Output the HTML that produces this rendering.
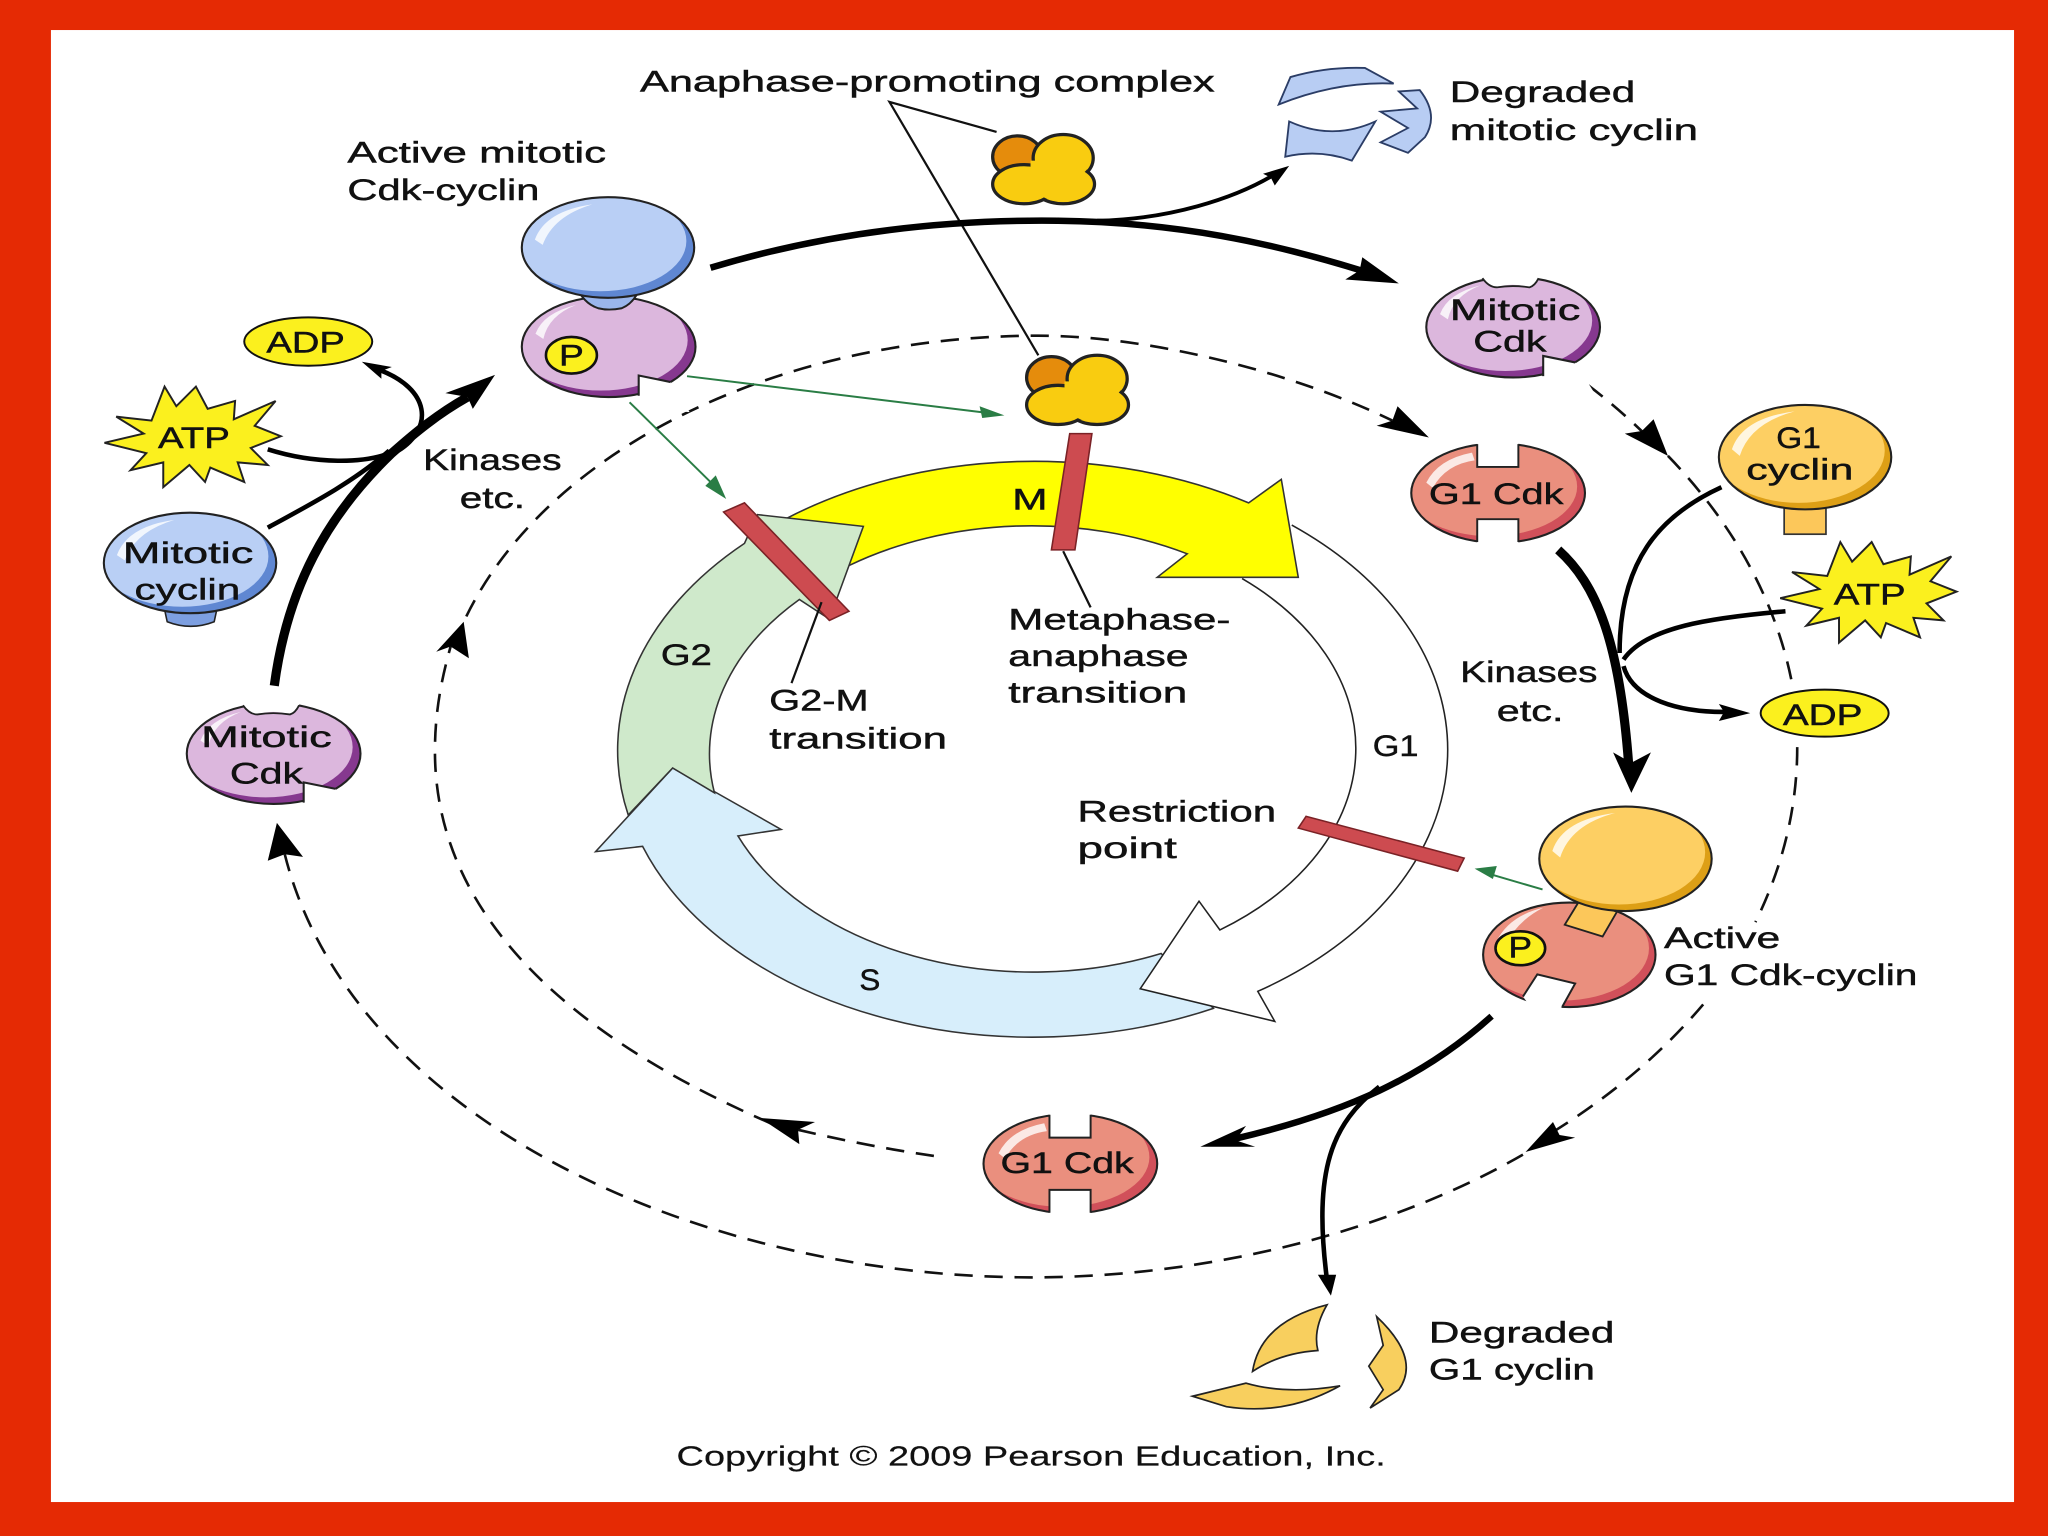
<!DOCTYPE html>
<html>
<head>
<meta charset="utf-8">
<style>
html,body{margin:0;padding:0;background:#e52a04;}
svg{display:block;}
text{font-family:"Liberation Sans",sans-serif;font-size:23px;fill:#111;stroke:#111;stroke-width:.35px;}
.thin{fill:none;stroke:#111;stroke-width:1.7;}
.dash{fill:none;stroke:#111;stroke-width:2;stroke-dasharray:14 9;}
.bk{fill:none;stroke:#000;stroke-linecap:butt;}
.gr{fill:none;stroke:#2a7d45;stroke-width:1.5;}
.bar{fill:#cd4b50;stroke:#7a2226;stroke-width:1.2;}
.hl{fill:#fff;opacity:.8;}
</style>
</head>
<body>
<svg xmlns="http://www.w3.org/2000/svg" width="2048" height="1536" viewBox="0 0 1568 1176">
<defs>
<clipPath id="c1"><ellipse rx="66.5" ry="38.5"/></clipPath>
<clipPath id="c2"><ellipse rx="66" ry="40"/></clipPath>
<g id="mcdk">
<ellipse rx="66.5" ry="38.5" fill="#86388f"/>
<ellipse cx="-6" cy="-5" rx="66.5" ry="38.5" fill="#dcb7dd" clip-path="url(#c1)"/>
<ellipse rx="66.5" ry="38.5" fill="none" stroke="#222" stroke-width="1.6"/>
<path d="M-56,-10 Q-50,-26 -25,-32 Q-46,-24 -50,-6 Z" class="hl"/>
<path d="M23,47 L23,22 L47.5,27 L62,50 Z" fill="#fff"/>
<path d="M23,37.5 L23,22 L47.5,27" fill="none" stroke="#222" stroke-width="1.6"/>
</g>
<g id="g1cdk">
<ellipse rx="66.5" ry="38" fill="#d1505a"/>
<ellipse cx="-6" cy="-5" rx="66.5" ry="38" fill="#ea8f7e" clip-path="url(#c1)"/>
<ellipse rx="66.5" ry="38" fill="none" stroke="#222" stroke-width="1.6"/>
<path d="M-55,-8 Q-46,-26 -20,-31 L-18,-25 Q-40,-22 -50,-4 Z" class="hl"/>
<path d="M-16,-42 V-20 H15.5 V-42 Z M-16,42 V20 H15.5 V42 Z" fill="#fff"/>
<path d="M-16,-37.5 V-20 H15.5 V-37.5 M-16,37.5 V20 H15.5 V37.5" fill="none" stroke="#222" stroke-width="1.5"/>
</g>
<g id="bcyc">
<ellipse rx="66" ry="38.5" fill="#5f87d2"/>
<ellipse cx="-6" cy="-5" rx="66" ry="38.5" fill="#b9cff5" clip-path="url(#c1)"/>
<ellipse rx="66" ry="38.5" fill="none" stroke="#222" stroke-width="1.6"/>
<path d="M-56,-6 Q-48,-28 -12,-33 Q-42,-24 -50,-2 Z" class="hl"/>
</g>
<g id="ycyc">
<ellipse rx="66" ry="40" fill="#dd9f16"/>
<ellipse cx="-5" cy="-5" rx="66" ry="40" fill="#fdcf63" clip-path="url(#c2)"/>
<ellipse rx="66" ry="40" fill="none" stroke="#222" stroke-width="1.6"/>
<path d="M-56,-6 Q-48,-30 -8,-35 Q-42,-26 -50,-1 Z" class="hl"/>
</g>
<g id="apc">
<ellipse cx="805" cy="289" rx="19" ry="16" fill="#e58c0c" stroke="#222" stroke-width="2.5"/>
<g fill="#f9cc10" stroke="#222" stroke-width="2.5">
<ellipse cx="840" cy="290" rx="23" ry="18"/>
<ellipse cx="840" cy="310" rx="24" ry="15"/>
<ellipse cx="810" cy="310" rx="24" ry="15"/>
</g>
<g fill="#f9cc10">
<ellipse cx="840" cy="290" rx="21.5" ry="16.5"/>
<ellipse cx="840" cy="310" rx="22.5" ry="13.5"/>
<ellipse cx="810" cy="310" rx="22.5" ry="13.5"/>
<rect x="815" y="292" width="20" height="20"/>
</g>
</g>
<polygon id="star" points="80,339 110,332 89,319 116,322 126,296 135,311 150,296 159,313 180,307 179,321 211,307 195,326 215,334 192,343 205,356 182,354 187,369 161,358 157,369 145,356 125,373 125,354 100,360 112,347" fill="#fbf01e" stroke="#222" stroke-width="1.5"/>
</defs>

<rect width="1568" height="1176" fill="#e52a04"/>
<rect x="39" y="23" width="1503" height="1127" fill="#fff"/>

<!-- Cell-cycle ring -->
<path d="M515,588 L598,635 L565,640 A245 170 0 0 0 889,730 L929,772 A317 220 0 0 1 492,648 L456,652 Z" fill="#d7eefb" stroke="#333" stroke-width="1.2"/>
<path d="M989,402 A317 220 0 0 1 963,759 L976,782 L873,757 L918,690 L934,712 A245 170 0 0 0 951,443" fill="#fff" stroke="#222" stroke-width="1.2"/>
<path d="M602,397 A317 220 0 0 1 956,385 L981,367 L994,442 L886,442 L909,424 A245 170 0 0 0 650,433 Z" fill="#ffff00" stroke="#333" stroke-width="1.2"/>
<path d="M580,394 L661,403 L635,474 L612,459 A245 170 0 0 0 547,607 L515,588 L481,624 A317 220 0 0 1 570,416 Z" fill="#cfe9cb" stroke="#333" stroke-width="1.2"/>

<polygon class="bar" points="554,392 570,385 650,468 635,475"/>
<polygon class="bar" points="819,332 836,332 823,421 805,421"/>
<polygon class="bar" points="1000,625 1121,657 1116,667 994,634"/>

<!-- Dashed arcs -->
<path class="dash" d="M1216,295 A581 408 0 0 1 1265,338"/>
<path class="dash" d="M1277,349 A581 408 0 0 1 1372,523"/>
<path class="dash" d="M1376,572 A581 408 0 0 1 1344,706"/>
<path class="dash" d="M1304,769 A581 408 0 0 1 1190,866"/>
<path class="dash" d="M1166,884 C1060,945 920,978 790,978 C540,978 270,860 218,654"/>
<path class="dash" d="M715,885 C680,880 645,873 611,865"/>
<path class="dash" d="M590,860 C470,808 333,720 333,575 C333,545 338,520 345,495"/>
<path class="dash" d="M357,472 A462 313 0 0 1 795,257 C880,257 990,285 1066,322"/>
<g fill="#000">
<polygon points="1094,335 1070,311 1066,322 1054,326"/>
<polygon points="1277,349 1266,321 1257,330 1244,332"/>
<polygon points="355,476 334,499 345,495 359,504"/>
<polygon points="582,856 624,859 611,865 612,876"/>
<polygon points="1168,882 1189,859 1194,869 1206,871"/>
<polygon points="212,630 205,659 218,654 232,656"/>
</g>

<!-- Thin pointers -->
<path class="thin" d="M763,101 L681,78 L795,272"/>
<path class="thin" d="M814,422 L835,465"/>
<path class="thin" d="M629,461 L606,523"/>

<!-- Green arrows -->
<path class="gr" d="M526,288 L755,316"/>
<polygon points="769,318 750,311 752,320" fill="#2a7d45"/>
<path class="gr" d="M482,308 L548,373"/>
<polygon points="556,382 548,364 540,372" fill="#2a7d45"/>
<path class="gr" d="M1181,681 L1140,669"/>
<polygon points="1129,665 1146,663 1143,673" fill="#2a7d45"/>

<!-- Thick arrows -->
<path class="bk" stroke-width="5" d="M544,205 C640,176 730,168 810,169 C900,170 975,186 1045,208"/>
<polygon points="1071,217 1043,197 1041,207 1030,214"/>
<path class="bk" stroke-width="3" d="M840,169 C895,168 945,152 975,134"/>
<polygon points="987,127 967,133 973,136 976,142"/>

<path class="bk" stroke-width="7" d="M210,525 C220,450 250,395 300,347 C318,331 335,317 358,304"/>
<polygon points="379,287 341,301 358,304 362,313"/>
<path class="bk" stroke-width="3.5" d="M205,344 C240,355 280,356 303,345"/>
<path class="bk" stroke-width="3.5" d="M205,404 C240,385 272,368 298,345"/>
<path class="bk" stroke-width="3.5" d="M305,345 C332,328 330,298 290,283"/>
<polygon points="277,277 300,281 292,284 292,290"/>

<path class="bk" stroke-width="7" d="M1193,421 C1222,447 1240,490 1247,586"/>
<polygon points="1249,607 1235,576 1249,584 1264,576"/>
<path class="bk" stroke-width="3.5" d="M1318,373 C1270,395 1240,430 1240,500"/>
<path class="bk" stroke-width="3.5" d="M1367,468 C1310,473 1260,480 1243,505"/>
<path class="bk" stroke-width="3.5" d="M1243,510 C1250,535 1285,546 1325,545"/>
<polygon points="1340,546 1316,539 1320,545 1316,552"/>

<path class="bk" stroke-width="5" d="M1142,778 C1090,825 1030,852 945,872"/>
<polygon points="919,878 954,862 946,873 961,878"/>
<path class="bk" stroke-width="3.5" d="M1056,832 C1020,860 1005,895 1016,980"/>
<polygon points="1019,992 1009,976 1023,976"/>

<!-- APC -->
<use href="#apc"/>
<use href="#apc" transform="translate(-26,-169)"/>

<!-- Active mitotic Cdk-cyclin -->
<use href="#mcdk" transform="translate(466,265.5)"/>
<path d="M441,218 Q446,232 458,236 Q466,238 476,236 Q486,232 491,218 Z" fill="#9ab6ec" stroke="#222" stroke-width="1.5"/>
<use href="#bcyc" transform="translate(465.5,189.5)"/>
<ellipse cx="437.5" cy="272" rx="19.5" ry="14" fill="#fbf01e" stroke="#111" stroke-width="2"/>

<!-- Mitotic cyclin -->
<path d="M125,462 L128,476 Q146,483 164,476 L167,462 Z" fill="#7d9fe0" stroke="#222" stroke-width="1.2"/>
<use href="#bcyc" transform="translate(145.5,431)"/>

<!-- Mitotic Cdk (left & right) -->
<use href="#mcdk" transform="translate(209.5,577)"/>
<use href="#mcdk" transform="translate(1158.5,250.5)"/>
<path d="M186,539 L192,532 H230 L229,540 Q226,546 222,547 Q209,543 197,547 Q190,546 186,539 Z" fill="#fff"/>
<path d="M186,540 Q191,547 197,547 Q209,545 222,547 Q226,546 229,540" fill="none" stroke="#222" stroke-width="1.4"/>
<path d="M1135,213 L1141,206 H1179 L1178,213 Q1175,219 1171,220 Q1158,216 1146,220 Q1139,219 1135,213 Z" fill="#fff"/>
<path d="M1135,213 Q1140,220 1146,220 Q1158,218 1171,220 Q1175,219 1178,213" fill="none" stroke="#222" stroke-width="1.4"/>

<!-- G1 Cdk -->
<use href="#g1cdk" transform="translate(1147,377.5)"/>
<use href="#g1cdk" transform="translate(819.5,891)"/>

<!-- G1 cyclin -->
<rect x="1366" y="385" width="32" height="24" fill="#fcc75a" stroke="#333" stroke-width="1.3"/>
<use href="#ycyc" transform="translate(1382,350)"/>

<!-- Active G1 -->
<g transform="translate(1201.5,731)">
<ellipse rx="66" ry="40" fill="#d1505a"/>
<ellipse cx="-5" cy="-5" rx="66" ry="40" fill="#ea8f7e" clip-path="url(#c2)"/>
<ellipse rx="66" ry="40" fill="none" stroke="#222" stroke-width="1.6"/>
<path d="M-56,-10 Q-46,-30 -20,-36 Q-40,-26 -50,-6 Z" class="hl"/>
</g>
<path d="M1166,763 L1177,746 L1206,753 L1196,771 L1180,782 Z" fill="#fff"/>
<path d="M1166,763 L1177,746 L1206,753 L1196,771" fill="none" stroke="#222" stroke-width="1.5"/>
<polygon points="1209,690 1238,698 1227,717 1198,708" fill="#fcc75a" stroke="#222" stroke-width="1.4"/>
<use href="#ycyc" transform="translate(1244.5,657.5)"/>
<ellipse cx="1164" cy="726" rx="19" ry="13" fill="#fbf01e" stroke="#111" stroke-width="2"/>

<!-- Nucleotides -->
<ellipse cx="236" cy="261.5" rx="49" ry="18.5" fill="#fbf01e" stroke="#111" stroke-width="1.5"/>
<ellipse cx="1397" cy="546" rx="49" ry="18" fill="#fbf01e" stroke="#111" stroke-width="1.5"/>
<use href="#star"/>
<use href="#star" transform="translate(1283,119)"/>

<!-- Degraded mitotic cyclin -->
<g fill="#b8cdf3" stroke="#2b3d66" stroke-width="1.4">
<path d="M979,80 L988,59 Q1015,51 1045,52 L1067,64 Q1024,62 979,80 Z"/>
<path d="M987,93 Q1020,108 1053,93 L1035,123 Q1010,114 984,120 Z"/>
<path d="M1071,70 L1087,69 Q1102,88 1091,105 L1078,117 L1057,109 L1078,98 L1057,85.5 L1085,83 Z"/>
</g>
<!-- Degraded G1 cyclin -->
<g fill="#f8cf5e" stroke="#222" stroke-width="1.3">
<path d="M1016,999 Q965,1012 959,1050 Q980,1036 1009,1034 Q1005,1018 1016,999 Z"/>
<path d="M913,1069 L954,1059 Q985,1068 1026,1061 Q985,1084 939,1077 Z"/>
<path d="M1054,1008 Q1088,1040 1071,1064 L1049,1078 L1059,1064 L1048,1046 L1059,1030 Z"/>
</g>

<!-- Labels -->
<text x="490" y="70" textLength="440" lengthAdjust="spacingAndGlyphs">Anaphase-promoting complex</text>
<text x="266" y="124.5" textLength="198" lengthAdjust="spacingAndGlyphs">Active mitotic</text>
<text x="266" y="153" textLength="147" lengthAdjust="spacingAndGlyphs">Cdk-cyclin</text>
<text x="1110" y="78" textLength="142" lengthAdjust="spacingAndGlyphs">Degraded</text>
<text x="1110" y="107" textLength="190" lengthAdjust="spacingAndGlyphs">mitotic cyclin</text>
<text x="324" y="360" textLength="106" lengthAdjust="spacingAndGlyphs">Kinases</text>
<text x="352" y="389" textLength="50" lengthAdjust="spacingAndGlyphs">etc.</text>
<text x="94" y="431" textLength="100" lengthAdjust="spacingAndGlyphs">Mitotic</text>
<text x="103" y="459" textLength="81" lengthAdjust="spacingAndGlyphs">cyclin</text>
<text x="121" y="343" textLength="55" lengthAdjust="spacingAndGlyphs">ATP</text>
<text x="204" y="270" textLength="60" lengthAdjust="spacingAndGlyphs">ADP</text>
<text x="428" y="280" textLength="19" lengthAdjust="spacingAndGlyphs">P</text>
<text x="154" y="572" textLength="100" lengthAdjust="spacingAndGlyphs">Mitotic</text>
<text x="176" y="600" textLength="56" lengthAdjust="spacingAndGlyphs">Cdk</text>
<text x="1110" y="245" textLength="100" lengthAdjust="spacingAndGlyphs">Mitotic</text>
<text x="1128" y="269" textLength="56" lengthAdjust="spacingAndGlyphs">Cdk</text>
<text x="1360" y="343" textLength="34" lengthAdjust="spacingAndGlyphs">G1</text>
<text x="1337" y="367" textLength="82" lengthAdjust="spacingAndGlyphs">cyclin</text>
<text x="1404" y="463" textLength="55" lengthAdjust="spacingAndGlyphs">ATP</text>
<text x="1365" y="555" textLength="61" lengthAdjust="spacingAndGlyphs">ADP</text>
<text x="1094" y="386" textLength="103" lengthAdjust="spacingAndGlyphs">G1 Cdk</text>
<text x="1118" y="522" textLength="105" lengthAdjust="spacingAndGlyphs">Kinases</text>
<text x="1146" y="552" textLength="51" lengthAdjust="spacingAndGlyphs">etc.</text>
<text x="1274" y="726" textLength="89" lengthAdjust="spacingAndGlyphs">Active</text>
<text x="1274" y="754" textLength="194" lengthAdjust="spacingAndGlyphs">G1 Cdk-cyclin</text>
<text x="1155" y="733" textLength="18" lengthAdjust="spacingAndGlyphs">P</text>
<text x="766" y="898" textLength="102" lengthAdjust="spacingAndGlyphs">G1 Cdk</text>
<text x="1094" y="1028" textLength="142" lengthAdjust="spacingAndGlyphs">Degraded</text>
<text x="1094" y="1056" textLength="127" lengthAdjust="spacingAndGlyphs">G1 cyclin</text>
<text x="775" y="390" textLength="27" lengthAdjust="spacingAndGlyphs">M</text>
<text x="506" y="509" textLength="39" lengthAdjust="spacingAndGlyphs">G2</text>
<text x="1051" y="579" textLength="35" lengthAdjust="spacingAndGlyphs">G1</text>
<text x="658" y="758" textLength="16" lengthAdjust="spacingAndGlyphs">S</text>
<text x="772" y="482" textLength="170" lengthAdjust="spacingAndGlyphs">Metaphase-</text>
<text x="772" y="510" textLength="138" lengthAdjust="spacingAndGlyphs">anaphase</text>
<text x="772" y="538" textLength="137" lengthAdjust="spacingAndGlyphs">transition</text>
<text x="589" y="544" textLength="76" lengthAdjust="spacingAndGlyphs">G2-M</text>
<text x="589" y="573" textLength="136" lengthAdjust="spacingAndGlyphs">transition</text>
<text x="825" y="629" textLength="152" lengthAdjust="spacingAndGlyphs">Restriction</text>
<text x="825" y="657" textLength="76" lengthAdjust="spacingAndGlyphs">point</text>
<text x="518" y="1122" textLength="543" lengthAdjust="spacingAndGlyphs" style="font-size:21px;stroke-width:.15px">Copyright © 2009 Pearson Education, Inc.</text>
</svg>
</body>
</html>
